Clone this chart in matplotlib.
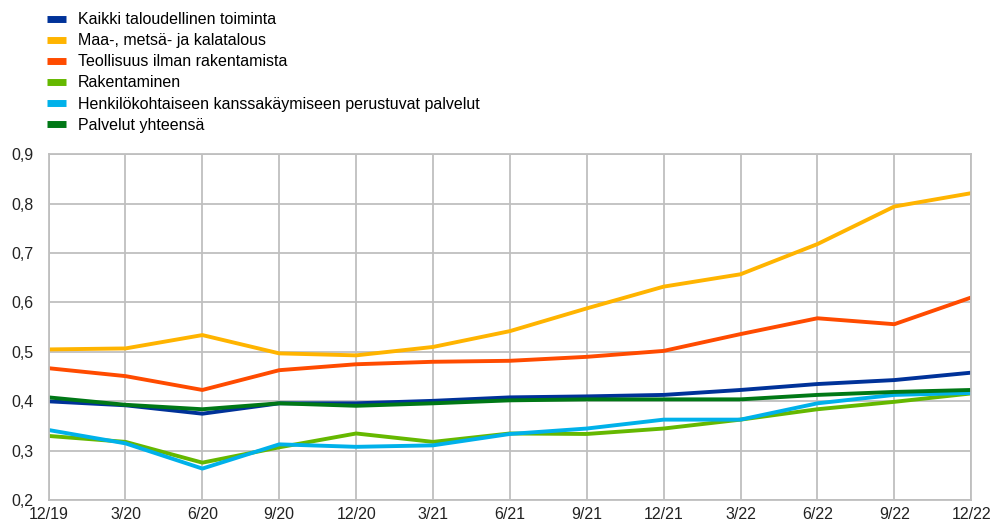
import matplotlib.pyplot as plt
from matplotlib.lines import Line2D

plt.rcParams['font.family'] = ['Liberation Sans', 'DejaVu Sans']

quarters = ["12/19", "3/20", "6/20", "9/20", "12/20", "3/21", "6/21",
            "9/21", "12/21", "3/22", "6/22", "9/22", "12/22"]

kaikki = [0.400, 0.392, 0.375, 0.396, 0.396, 0.401, 0.408,
          0.410, 0.413, 0.423, 0.435, 0.443, 0.458]
maa_metsa = [0.505, 0.507, 0.534, 0.497, 0.493, 0.510, 0.542,
             0.588, 0.632, 0.657, 0.718, 0.794, 0.821]
teollisuus = [0.467, 0.451, 0.423, 0.463, 0.475, 0.480, 0.482,
              0.490, 0.502, 0.536, 0.568, 0.556, 0.610]
rakentaminen = [0.330, 0.318, 0.276, 0.307, 0.335, 0.318, 0.335,
                0.334, 0.345, 0.363, 0.384, 0.399, 0.416]
henkilo = [0.342, 0.315, 0.264, 0.313, 0.308, 0.311, 0.334,
           0.345, 0.363, 0.363, 0.396, 0.413, 0.417]
palvelut = [0.408, 0.393, 0.384, 0.396, 0.391, 0.396, 0.402,
            0.404, 0.404, 0.404, 0.413, 0.419, 0.423]

series = [
    ("Kaikki taloudellinen toiminta", kaikki, "#003299"),
    ("Maa-, metsä- ja kalatalous", maa_metsa, "#FFB400"),
    ("Teollisuus ilman rakentamista", teollisuus, "#FF4B00"),
    ("Rakentaminen", rakentaminen, "#65B800"),
    ("Henkilökohtaiseen kanssakäymiseen perustuvat palvelut", henkilo, "#00B1EA"),
    ("Palvelut yhteensä", palvelut, "#007816"),
]

fig = plt.figure(figsize=(9.92, 5.26), dpi=100)
ax = fig.add_axes([0.049, 0.049, 0.930, 0.658])

x = range(len(quarters))
for label, vals, color in series:
    ax.plot(x, vals, color=color, lw=2.8, label=label, solid_joinstyle='round')

ax.set_xlim(0, len(quarters) - 1)
ax.set_ylim(0.2, 0.9)
ax.set_xticks(list(x))
ax.set_xticklabels(quarters)
yt = [0.2, 0.3, 0.4, 0.5, 0.6, 0.7, 0.8, 0.9]
ax.set_yticks(yt)
ax.set_yticklabels([f"{v:.1f}".replace(".", ",") for v in yt])
ax.grid(True, color="#BFBFBF", lw=1.3)
ax.set_axisbelow(True)
for s in ax.spines.values():
    s.set_color("#BFBFBF")
    s.set_linewidth(1.3)
ax.tick_params(length=0, labelsize=11.5, colors="#222222")
ax.tick_params(axis="y", pad=11)
ax.tick_params(axis="x", pad=5)

# legend keys drawn as short thick bars
handles = [Line2D([], [], color=c, lw=5, solid_capstyle="butt") for _, _, c in series]
labels = [lab for lab, _, _ in series]
fig.legend(handles, labels, loc="upper left", bbox_to_anchor=(0.033, 1.004),
           frameon=False, fontsize=11.5, handlelength=1.2,
           labelspacing=0.38, handletextpad=0.72)

fig.savefig("out.png", dpi=100)
